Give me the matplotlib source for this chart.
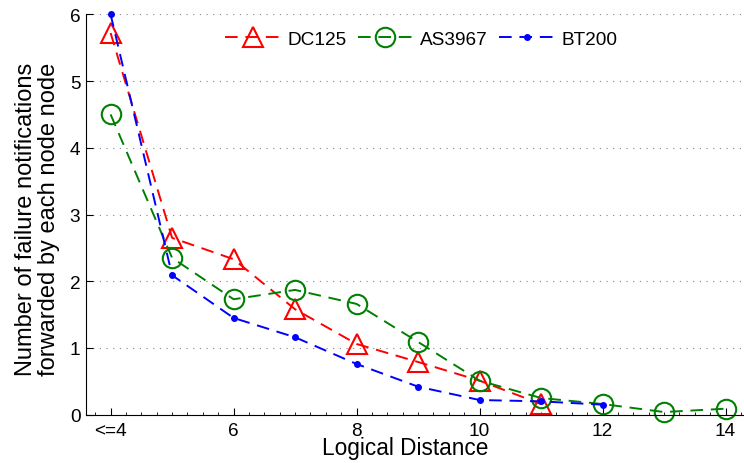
import matplotlib
matplotlib.use("Agg")
import matplotlib.pyplot as plt
from matplotlib.ticker import MultipleLocator

plt.rcParams['font.family'] = ['Liberation Sans', 'DejaVu Sans']

x_dc = [4, 5, 6, 7, 8, 9, 10, 11]
dc125 = [5.72, 2.65, 2.33, 1.58, 1.06, 0.79, 0.51, 0.16]
x_as = [4, 5, 6, 7, 8, 9, 10, 11, 12, 13, 14]
as3967 = [4.5, 2.35, 1.73, 1.87, 1.66, 1.09, 0.51, 0.25, 0.16, 0.04, 0.09]
x_bt = [4, 5, 6, 7, 8, 9, 10, 11, 12]
bt200 = [6.0, 2.09, 1.45, 1.16, 0.76, 0.42, 0.22, 0.20, 0.15]
xticks = [4, 6, 8, 10, 12, 14]
xticklabels = ['<=4', '6', '8', '10', '12', '14']

fig = plt.figure(figsize=(7.44, 4.64), dpi=100)
ax = fig.add_axes([86/744, 1-415.7/464, (744-86)/744, (415.7-15.3)/464])

dash = (0, (6.5, 4))
ax.plot(x_dc, dc125, color='red', linestyle=dash, lw=1.4, marker='^', ms=15,
        mfc='none', mec='red', mew=1.5, label='DC125', clip_on=False)
ax.plot(x_as, as3967, color=(0, 0.5, 0), linestyle=dash, lw=1.4, marker='o', ms=14,
        mfc='none', mec=(0, 0.5, 0), mew=1.5, label='AS3967', clip_on=False)
ax.plot(x_bt, bt200, color='blue', linestyle=dash, lw=1.4, marker='.', ms=8,
        label='BT200', clip_on=False)

ax.set_xlim(3.6, 14.3)
ax.set_ylim(0, 6)
ax.set_xticks(xticks)
ax.set_xticklabels(xticklabels)
ax.xaxis.set_minor_locator(MultipleLocator(0.25))
ax.set_yticks([0, 1, 2, 3, 4, 5, 6])
ax.tick_params(direction='in', labelsize=13.7, length=5, width=0.8)
ax.tick_params(which='minor', direction='in', length=2.5, width=0.6)
ax.tick_params(axis='y', pad=4)
ax.tick_params(axis='x', pad=5)
ax.yaxis.grid(True, linestyle=(0, (1, 5)), color='gray', lw=0.8)
ax.spines['top'].set_visible(False)
ax.spines['right'].set_visible(False)
ax.set_axisbelow(True)

ax.set_xlabel('Logical Distance', fontsize=16.3)
ax.xaxis.set_label_coords((405-86)/658, -(437-415.7)/400.4)
ax.set_ylabel('Number of failure notifications\nforwarded by each node node', fontsize=17,
              linespacing=1.05)
ax.yaxis.set_label_coords((60-86)/658, 0.49)

fig.legend(loc='center left', bbox_to_anchor=(225/744, 1-40/464), ncol=3, frameon=False,
           fontsize=13.7, handlelength=2.9, columnspacing=0.6, handletextpad=0.37,
           borderpad=0, borderaxespad=0)

fig.savefig('out.png', dpi=100)
